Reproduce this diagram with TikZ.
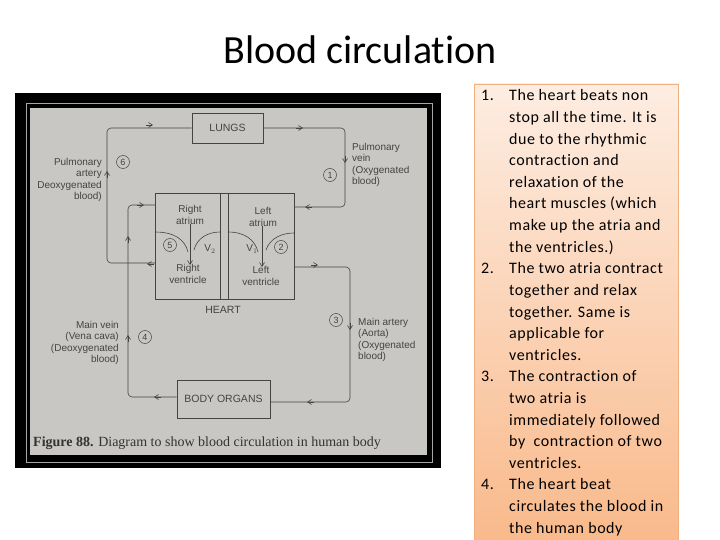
\documentclass[tikz,border=0pt]{standalone}
\usepackage{fontspec}
\setmainfont[Ligatures=NoCommon]{Carlito}
\newfontfamily\boxf[LetterSpace=3.5,Ligatures=NoCommon]{Carlito}
\newfontfamily\diag{Liberation Sans}
\newfontfamily\capf{Liberation Serif}
\usetikzlibrary{arrows.meta}
\definecolor{paper}{HTML}{C9C7C3}
\definecolor{ink}{HTML}{444444}
\definecolor{boxtop}{HTML}{FDEDE2}
\definecolor{boxbot}{HTML}{F9B98A}
\definecolor{boxline}{HTML}{F0B080}
\tikzset{
  organ/.style={draw=ink,line width=0.6pt,fill=paper,font=\diag\fontsize{10.5}{12}\selectfont,text=ink,inner sep=0pt},
  lbl/.style={font=\diag\fontsize{10}{11.5}\selectfont,text=ink,inner sep=0pt,align=left},
  num/.style={circle,draw=ink,line width=0.5pt,minimum size=13pt,inner sep=0pt,font=\diag\fontsize{9}{9}\selectfont,text=ink},
  flow/.style={draw=ink,line width=0.6pt,rounded corners=4pt},
  tip/.style={draw=ink,line width=0.6pt,-{Straight Barb[length=4pt,width=5pt]}},
  item/.style={anchor=base west,inner sep=0pt,font=\boxf\fontsize{16}{18}\selectfont}
}
\begin{document}
\begin{tikzpicture}[x=1pt,y=-1pt]
\useasboundingbox (0,0) rectangle (720,540);
\fill[white] (0,0) rectangle (720,540);
\node[font=\fontsize{40}{44}\selectfont,inner sep=0pt] (title) at (360,50) {Blood circulation};
% photo frame
\fill[black] (15,93) rectangle (441,468);
\draw[gray!70,line width=0.6pt] (26,103) rectangle (432,462);
\fill[paper] (30,108) rectangle (427,455);
\begin{scope}
\clip (30,108) rectangle (427,455);
% boxes
\node[organ,minimum width=71pt,minimum height=30pt] (lungs) at (227.5,128) {LUNGS};
\node[organ,minimum width=139pt,minimum height=106pt] (heart) at (224.5,246) {};
\draw[ink,line width=0.6pt] (220,193) -- (220,299) (228,193) -- (228,299);
\node[organ,minimum width=93pt,minimum height=38pt] (body) at (223.5,399) {BODY ORGANS};
\node[lbl] (hl) at (223,310) {\fontsize{10.5}{12}\selectfont HEART};
% named points
\coordinate (hpa) at (155,263);
\coordinate (hpv) at (294,207);
\coordinate (hao) at (294,267);
\coordinate (hvc) at (155,205);
% loops
\draw[flow] (hpa) -- (107,263) -- (107,128) -- (lungs.west);
\draw[flow] (lungs.east) -- (345,128) -- (345,207) -- (hpv);
\draw[flow] (hao) -- (350,267) -- (350,402) -- (body.east |- 0,402);
\draw[flow] (body.west |- 0,397) -- (128,397) -- (128,205) -- (hvc);
% arrow tips
\draw[tip] (146,125) -- (153,125);
\draw[tip] (107,178) -- (107,171);
\draw[tip] (296,128) -- (303,128);
\draw[tip] (345,156) -- (345,163);
\draw[tip] (312,207) -- (305,207);
\draw[tip] (311,265) -- (318,265);
\draw[tip] (350,323) -- (350,330);
\draw[tip] (314,402) -- (307,402);
\draw[tip] (161,397) -- (154,397);
\draw[tip] (128,342) -- (128,335);
\draw[tip] (128,243) -- (128,236);
\draw[tip] (137,205) -- (144,205);
\draw[tip] (154,264) -- (147,264);
% chamber labels
\node[lbl,align=center] (ra) at (190,215) {Right\\atrium};
\node[lbl,align=center] (rv) at (188,274) {Right\\ventricle};
\node[lbl,align=center] (la) at (263,217) {Left\\atrium};
\node[lbl,align=center] (lv) at (261,276) {Left\\ventricle};
\node[lbl] (v2) at (210,249) {V$_2$};
\node[lbl] (v1) at (252,249) {V$_1$};
% valves
\draw[ink,line width=0.6pt] (155,232) .. controls (175,232) and (185,240) .. (188,252);
\draw[ink,line width=0.6pt] (194,250) .. controls (197,238) and (208,232) .. (220,232);
\draw[tip] (190,224) -- (190,265);
\draw[ink,line width=0.6pt] (228,232) .. controls (245,232) and (255,240) .. (258,252);
\draw[ink,line width=0.6pt] (266,250) .. controls (270,238) and (282,233) .. (294,233);
\draw[tip] (262,226) -- (262,267);
% numbers
\node[num] (n6) at (123,162) {6};
\node[num] (n1) at (330,175) {1};
\node[num] (n5) at (170,245) {5};
\node[num] (n2) at (281,247) {2};
\node[num] (n3) at (336,320) {3};
\node[num] (n4) at (145,337) {4};
% side labels
\node[lbl,align=right,anchor=east] (pa) at (102,180) {Pulmonary\\artery\\Deoxygenated\\blood)};
\node[lbl,anchor=west] (pv) at (352,165) {Pulmonary\\vein\\(Oxygenated\\blood)};
\node[lbl,align=right,anchor=east] (mv) at (119,343) {Main vein\\(Vena cava)\\(Deoxygenated\\blood)};
\node[lbl,anchor=west] (ma) at (358,340) {Main artery\\(Aorta)\\(Oxygenated\\blood)};
% caption
\node[anchor=base west,inner sep=0pt,text=black!80,font=\capf\fontsize{14}{15}\selectfont] (cap) at (33,446) {\textbf{Figure 88.} Diagram to show blood circulation in human body};
\end{scope}
% text box
\shade[top color=boxtop,bottom color=boxbot,draw=boxline,line width=0.6pt] (474,84) rectangle (678,545);
\foreach \n/\t [count=\k from 0] in {1./The heart beats non, /stop all the time. It is, /due to the rhythmic, /contraction and, /relaxation of the, /heart muscles (which, /make up the atria and, /the ventricles.), 2./The two atria contract, /together and relax, /together. Same is, /applicable for, /ventricles., 3./The contraction of, /two atria is, /immediately followed, /by\ \ contraction of two, /ventricles., 4./The heart beat, /circulates the blood in, /the human body}{
  \node[item] (t\k) at (509,101+21.6*\k) {\t};
  \node[item] (m\k) at (481,101+21.6*\k) {\n};
}
\end{tikzpicture}
\end{document}
